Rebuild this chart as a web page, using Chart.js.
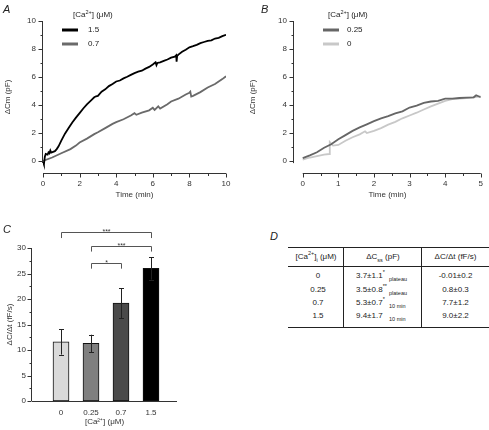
<!DOCTYPE html>
<html>
<head>
<meta charset="utf-8">
<script src="https://cdn.jsdelivr.net/npm/chart.js@4.4.0/dist/chart.umd.min.js"></script>
<style>
  html, body { margin: 0; padding: 0; background: #fff; }
  body { width: 489px; height: 430px; position: relative; overflow: hidden;
         font-family: 'Liberation Sans', Arial, sans-serif; color: #222; }
  canvas { position: absolute; }
  .tag { position: absolute; font-style: italic; font-size: 11px; line-height: 12px; }
  .hline { position: absolute; height: 1px; background: #222; }
  .vline { position: absolute; width: 1px; background: #222; }
  .cell { position: absolute; font-size: 8px; line-height: 10px; white-space: nowrap; color: #222; }
  .c { text-align: center; }
  .cell sup, .cell sub { font-size: 5.5px; line-height: 0; }
  .main { display: inline-block; width: 33px; }
</style>
</head>
<body>

<canvas id="chartA" width="245" height="200" style="left:0;top:0"></canvas>
<canvas id="chartB" width="244" height="200" style="left:245px;top:0"></canvas>
<canvas id="chartC" width="245" height="230" style="left:0;top:200px"></canvas>

<div class="tag" style="left:3px;top:3px">A</div>
<div class="tag" style="left:261px;top:3px">B</div>
<div class="tag" style="left:3px;top:223px">C</div>
<div class="tag" style="left:270px;top:230px">D</div>

<!-- Panel D: summary table -->
<div class="hline" style="left:288px;top:247px;width:201px"></div>
<div class="hline" style="left:288px;top:266px;width:201px"></div>
<div class="hline" style="left:288px;top:327px;width:201px"></div>
<div class="vline" style="left:343px;top:248px;height:80px"></div>
<div class="vline" style="left:421px;top:248px;height:80px"></div>
<div id="tableD"></div>

<script>
// ── Panel A: ΔCm traces, 1.5 and 0.7 µM ──────────────────────
const timeA15 = [0, 0.05, 0.1, 0.15, 0.25, 0.3, 0.35, 0.4, 0.45, 0.55, 0.65, 0.75, 0.85, 1.0, 1.2, 1.4, 1.6, 1.8, 2.0, 2.2, 2.4, 2.6, 2.8, 2.9, 3.0, 3.2, 3.4, 3.6, 3.8, 4.0, 4.2, 4.4, 4.6, 4.8, 5.0, 5.2, 5.4, 5.6, 5.8, 6.0, 6.15, 6.2, 6.25, 6.4, 6.6, 6.8, 7.0, 7.2, 7.28, 7.3, 7.33, 7.4, 7.6, 7.8, 8.0, 8.2, 8.4, 8.6, 8.8, 9.0, 9.2, 9.4, 9.6, 9.8, 10.0];
const capA15  = [-0.05, -0.25, 0.3, 0.5, 0.45, 0.62, 0.55, 0.75, 0.6, 0.65, 0.7, 0.85, 1.05, 1.45, 1.95, 2.35, 2.75, 3.1, 3.42, 3.75, 4.05, 4.3, 4.55, 4.62, 4.65, 4.95, 5.12, 5.35, 5.5, 5.68, 5.75, 5.9, 6.02, 6.15, 6.28, 6.38, 6.45, 6.6, 6.72, 6.9, 7.05, 6.85, 7.0, 7.05, 7.15, 7.25, 7.38, 7.45, 7.55, 7.1, 7.5, 7.6, 7.8, 7.95, 8.12, 8.2, 8.3, 8.42, 8.5, 8.58, 8.62, 8.75, 8.8, 8.92, 9.02];
const timeA07 = [0, 0.5, 1.0, 1.5, 1.8, 2.0, 2.4, 2.8, 3.0, 3.4, 3.8, 4.0, 4.4, 4.8, 5.0, 5.1, 5.4, 5.8, 6.0, 6.1, 6.3, 6.4, 6.8, 7.0, 7.4, 7.8, 8.0, 8.05, 8.1, 8.2, 8.6, 9.0, 9.4, 9.8, 10.0];
const capA07  = [0, 0.25, 0.55, 0.85, 1.1, 1.32, 1.6, 1.92, 2.05, 2.35, 2.65, 2.78, 2.98, 3.25, 3.42, 3.3, 3.45, 3.62, 3.8, 3.65, 3.9, 3.75, 4.05, 4.25, 4.45, 4.75, 4.88, 4.95, 4.6, 4.65, 4.92, 5.25, 5.5, 5.85, 6.05];

// ── Panel B: ΔCm traces, 0.25 and 0 µM ───────────────────────
const timeB025 = [0, 0.2, 0.4, 0.6, 0.8, 1.0, 1.2, 1.4, 1.6, 1.8, 2.0, 2.2, 2.4, 2.6, 2.8, 3.0, 3.2, 3.4, 3.6, 3.8, 4.0, 4.2, 4.4, 4.6, 4.8, 4.87, 5.0];
const capB025  = [0.2, 0.4, 0.62, 0.95, 1.2, 1.55, 1.85, 2.15, 2.4, 2.62, 2.85, 3.05, 3.2, 3.4, 3.55, 3.82, 3.95, 4.15, 4.25, 4.3, 4.45, 4.45, 4.5, 4.52, 4.55, 4.7, 4.55];
const timeB0   = [0, 0.2, 0.4, 0.6, 0.74, 0.76, 0.85, 1.0, 1.2, 1.4, 1.6, 1.75, 1.8, 2.0, 2.2, 2.4, 2.6, 2.8, 3.0, 3.2, 3.4, 3.6, 3.8, 4.0, 4.2, 4.4, 4.6, 4.8, 5.0];
const capB0    = [0.1, 0.25, 0.35, 0.45, 0.5, 1.35, 1.1, 1.15, 1.45, 1.7, 1.9, 2.12, 2.0, 2.15, 2.35, 2.6, 2.8, 3.05, 3.25, 3.45, 3.68, 3.9, 4.1, 4.3, 4.42, 4.45, 4.5, 4.55, 4.62];

// ── Panel C: release rate bars ───────────────────────────────
const caLabels   = ['0', '0.25', '0.7', '1.5'];
const rateMeans  = [11.6, 11.3, 19.2, 26.0];
const rateErrors = [2.5, 1.7, 2.95, 2.2];
const sigPairs   = [[0, 3], [1, 3], [1, 2]];
const sigLevels  = [33.1, 30.45, 27.1];
const sigMarks   = ['***', '***', '*'];

// ── Tick values ──────────────────────────────────────────────
const yTicksAB = [0, 1, 2, 3, 4, 5, 6, 7, 8, 9, 10];
const xTicksA  = [0, 1, 2, 3, 4, 5, 6, 7, 8, 9, 10];
const xTicksB  = [0, 0.5, 1, 1.5, 2, 2.5, 3, 3.5, 4, 4.5, 5];
const yTicksC  = [0, 2.5, 5, 7.5, 10, 12.5, 15, 17.5, 20, 22.5, 25, 27.5, 30];
const xTicksC  = [0, 1, 2, 3];

// ── Panel D: table rows ──────────────────────────────────────
const tableCa    = ['0', '0.25', '0.7', '1.5'];
const tableCss   = ['3.7±1.1', '3.5±0.8', '5.3±0.7', '9.4±1.7'];
const tableSig   = ['*', '**', '*', ''];
const tableWhen  = ['plateau', 'plateau', '10 min', '10 min'];
const tableRate  = ['-0.01±0.2', '0.8±0.3', '7.7±1.2', '9.0±2.2'];

const FONT = "'Liberation Sans', Arial, sans-serif";
Chart.defaults.font.family = FONT;
Chart.defaults.font.size = 8;
Chart.defaults.color = '#333';

const pts = (xs, ys) => xs.map((x, i) => ({ x, y: ys[i] }));
const every = (step) => (v) => (Math.abs(v / step - Math.round(v / step)) < 1e-6 ? String(v) : '');

// ── Offset axes (Origin style): lines + major/minor ticks ────
const axesPlugin = {
  id: 'offsetAxes',
  afterDraw(chart, args, opts) {
    const { ctx, chartArea } = chart;
    const xs = chart.scales.x, ys = chart.scales.y;
    const ax = Math.round(chartArea.left) - 0.5;
    const ay = Math.round(chartArea.bottom) + 0.5;
    ctx.save();
    ctx.strokeStyle = '#333';
    ctx.lineWidth = 1;
    ctx.beginPath();
    ctx.moveTo(ax, ys.getPixelForValue(opts.yLine[0]));
    ctx.lineTo(ax, ys.getPixelForValue(opts.yLine[1]));
    ctx.moveTo(xs.getPixelForValue(opts.xLine[0]), ay);
    ctx.lineTo(xs.getPixelForValue(opts.xLine[1]), ay);
    opts.yTicks.forEach((v) => {
      const y = Math.round(ys.getPixelForValue(v)) + 0.5;
      const len = opts.yMajor(v) ? 4 : 2;
      ctx.moveTo(ax, y); ctx.lineTo(ax - len, y);
    });
    (opts.xTicks || []).forEach((v) => {
      const x = Math.round(xs.getPixelForValue(v)) + 0.5;
      const len = opts.xMajor(v) ? 4 : 2.5;
      ctx.moveTo(x, ay); ctx.lineTo(x, ay + len);
    });
    ctx.stroke();
    ctx.restore();
  },
};

// ── Legend with [Ca2+] title ─────────────────────────────────
const caLegendPlugin = {
  id: 'caLegend',
  afterDraw(chart, args, opts) {
    const { ctx } = chart;
    ctx.save();
    ctx.fillStyle = '#222';
    ctx.textBaseline = 'middle';
    ctx.font = `8px ${FONT}`;
    let x = opts.titleX;
    ctx.fillText('[Ca', x, opts.titleY);
    x += ctx.measureText('[Ca').width;
    ctx.font = `5.5px ${FONT}`;
    ctx.fillText('2+', x, opts.titleY - 3);
    x += ctx.measureText('2+').width;
    ctx.font = `8px ${FONT}`;
    ctx.fillText('] (μM)', x, opts.titleY);
    chart.data.datasets.forEach((ds, i) => {
      const y = opts.rowY + i * opts.rowGap;
      ctx.strokeStyle = ds.borderColor;
      ctx.lineWidth = 3;
      ctx.beginPath();
      ctx.moveTo(opts.lineX, y);
      ctx.lineTo(opts.lineX + 16, y);
      ctx.stroke();
      ctx.fillText(ds.label, opts.textX, y);
    });
    ctx.restore();
  },
};

function traceChart(id, datasets, xMin, xMax, xTicks, xStep, layoutPad, yWidth, legend) {
  return new Chart(document.getElementById(id), {
    type: 'line',
    data: { datasets },
    options: {
      responsive: false,
      animation: false,
      layout: { padding: layoutPad },
      elements: { point: { radius: 0 }, line: { borderWidth: 1.8, tension: 0 } },
      plugins: {
        legend: { display: false },
        tooltip: { enabled: false },
        offsetAxes: {
          yLine: [10, -0.15], xLine: [xTicks[0], xTicks[xTicks.length - 1]],
          yTicks: yTicksAB, yMajor: (v) => v % 2 === 0,
          xTicks, xMajor: (v) => every(xStep)(v) !== '',
        },
        caLegend: legend,
      },
      scales: {
        x: {
          type: 'linear', min: xMin, max: xMax,
          grid: { display: false, drawTicks: false },
          border: { display: false },
          afterBuildTicks: (s) => { s.ticks = xTicks.map((v) => ({ value: v })); },
          afterFit: (s) => { s.height = 27; },
          ticks: { padding: 6, autoSkip: false, maxRotation: 0, callback: every(xStep) },
          title: { display: true, text: 'Time (min)', padding: { top: 0, bottom: 0 } },
        },
        y: {
          min: -0.857, max: 10,
          grid: { display: false, drawTicks: false },
          border: { display: false },
          afterBuildTicks: (s) => { s.ticks = yTicksAB.map((v) => ({ value: v })); },
          afterFit: (s) => { s.width = yWidth; },
          ticks: { padding: 7, callback: every(2) },
          title: { display: true, text: 'ΔCm (pF)', padding: { top: 3, bottom: 0 } },
        },
      },
    },
    plugins: [axesPlugin, caLegendPlugin],
  });
}

// ── Panel A ──────────────────────────────────────────────────
traceChart('chartA', [
  { label: '1.5', data: pts(timeA15, capA15), borderColor: '#000000' },
  { label: '0.7', data: pts(timeA07, capA07), borderColor: '#6a6a6a' },
], 0, 10, xTicksA, 2, { top: 21, right: 19, left: 0, bottom: 0 }, 43,
{ titleX: 73, titleY: 15, rowY: 30, rowGap: 14, lineX: 62, textX: 88 });

// ── Panel B ──────────────────────────────────────────────────
traceChart('chartB', [
  { label: '0.25', data: pts(timeB025, capB025), borderColor: '#666666' },
  { label: '0',    data: pts(timeB0, capB0),     borderColor: '#c8c8c8' },
], -0.245, 5, xTicksB, 1, { top: 21, right: 2, left: 0, bottom: 0 }, 49,
{ titleX: 83, titleY: 15, rowY: 30, rowGap: 14, lineX: 78, textX: 102 });

// ── Panel C: bars + error bars + significance brackets ───────
const barExtrasPlugin = {
  id: 'barExtras',
  afterDatasetsDraw(chart) {
    const { ctx } = chart;
    const ys = chart.scales.y;
    const bars = chart.getDatasetMeta(0).data;
    ctx.save();
    ctx.strokeStyle = '#222';
    ctx.lineWidth = 1;
    ctx.beginPath();
    bars.forEach((bar, i) => {
      const x = Math.round(bar.x) + 0.5;
      const top = ys.getPixelForValue(rateMeans[i] + rateErrors[i]);
      const bot = ys.getPixelForValue(rateMeans[i] - rateErrors[i]);
      ctx.moveTo(x, top); ctx.lineTo(x, bot);
      ctx.moveTo(x - 2.5, Math.round(top) + 0.5); ctx.lineTo(x + 2.5, Math.round(top) + 0.5);
      ctx.moveTo(x - 2.5, Math.round(bot) + 0.5); ctx.lineTo(x + 2.5, Math.round(bot) + 0.5);
    });
    ctx.stroke();

    ctx.strokeStyle = '#555';
    ctx.fillStyle = '#333';
    ctx.font = `7px ${FONT}`;
    ctx.textAlign = 'center';
    ctx.textBaseline = 'alphabetic';
    sigPairs.forEach(([a, b], i) => {
      const x1 = Math.round(bars[a].x) + 0.5;
      const x2 = Math.round(bars[b].x) + 0.5;
      const y = Math.round(ys.getPixelForValue(sigLevels[i])) + 0.5;
      const yLeg = ys.getPixelForValue(sigLevels[i] - 1.15);
      ctx.beginPath();
      ctx.moveTo(x1, yLeg); ctx.lineTo(x1, y); ctx.lineTo(x2, y); ctx.lineTo(x2, yLeg);
      ctx.stroke();
      ctx.fillText(sigMarks[i], (x1 + x2) / 2, y + 1);
    });
    ctx.restore();
  },
};

new Chart(document.getElementById('chartC'), {
  type: 'bar',
  data: {
    datasets: [{
      data: pts(xTicksC, rateMeans),
      backgroundColor: ['#d9d9d9', '#7f7f7f', '#4a4a4a', '#000000'],
      borderColor: '#111',
      borderWidth: 1,
      borderSkipped: false,
      barThickness: 16,
    }],
  },
  options: {
    responsive: false,
    animation: false,
    layout: { padding: { top: 48, right: 68, left: 0, bottom: 0 } },
    plugins: {
      legend: { display: false },
      tooltip: { enabled: false },
      offsetAxes: {
        yLine: [30, 0], xLine: [-0.967, 3.867],
        yTicks: yTicksC, yMajor: (v) => v % 5 === 0,
        xTicks: [], xMajor: () => true,
      },
    },
    scales: {
      x: {
        type: 'linear', min: -0.967, max: 3.867, offset: false,
        grid: { display: false, drawTicks: false },
        border: { display: false },
        afterBuildTicks: (s) => { s.ticks = xTicksC.map((v) => ({ value: v })); },
        afterFit: (s) => { s.height = 29; },
        ticks: { padding: 7, autoSkip: false, maxRotation: 0, callback: (v) => caLabels[v] },
        title: { display: true, text: '[Ca²⁺] (μM)', padding: { top: 0, bottom: 3 } },
      },
      y: {
        min: 0, max: 30,
        grid: { display: false, drawTicks: false },
        border: { display: false },
        afterBuildTicks: (s) => { s.ticks = yTicksC.map((v) => ({ value: v })); },
        afterFit: (s) => { s.width = 32; },
        ticks: { padding: 6, callback: every(5) },
        title: { display: true, text: 'ΔC/Δt (fF/s)', padding: { top: 5, bottom: 0 } },
      },
    },
  },
  plugins: [axesPlugin, barExtrasPlugin],
});

// ── Panel D: fill the table ──────────────────────────────────
const rowTops = [271, 284.5, 297.5, 310.5];
let html = '';
html += `<div class="cell c" style="left:288px;width:56px;top:252px">[Ca<sup>2+</sup>]<sub>i</sub> (μM)</div>`;
html += `<div class="cell c" style="left:344px;width:78px;top:252px">ΔC<sub>ss</sub> (pF)</div>`;
html += `<div class="cell c" style="left:422px;width:67px;top:252px">ΔC/Δt (fF/s)</div>`;
tableCa.forEach((ca, i) => {
  const t = rowTops[i];
  html += `<div class="cell c" style="left:288px;width:60px;top:${t}px">${ca}</div>`;
  html += `<div class="cell" style="left:356px;top:${t}px"><span class="main">${tableCss[i]}<sup>${tableSig[i]}</sup></span><sub>${tableWhen[i]}</sub></div>`;
  html += `<div class="cell c" style="left:422px;width:67px;top:${t}px">${tableRate[i]}</div>`;
});
document.getElementById('tableD').innerHTML = html;
</script>
</body>
</html>
